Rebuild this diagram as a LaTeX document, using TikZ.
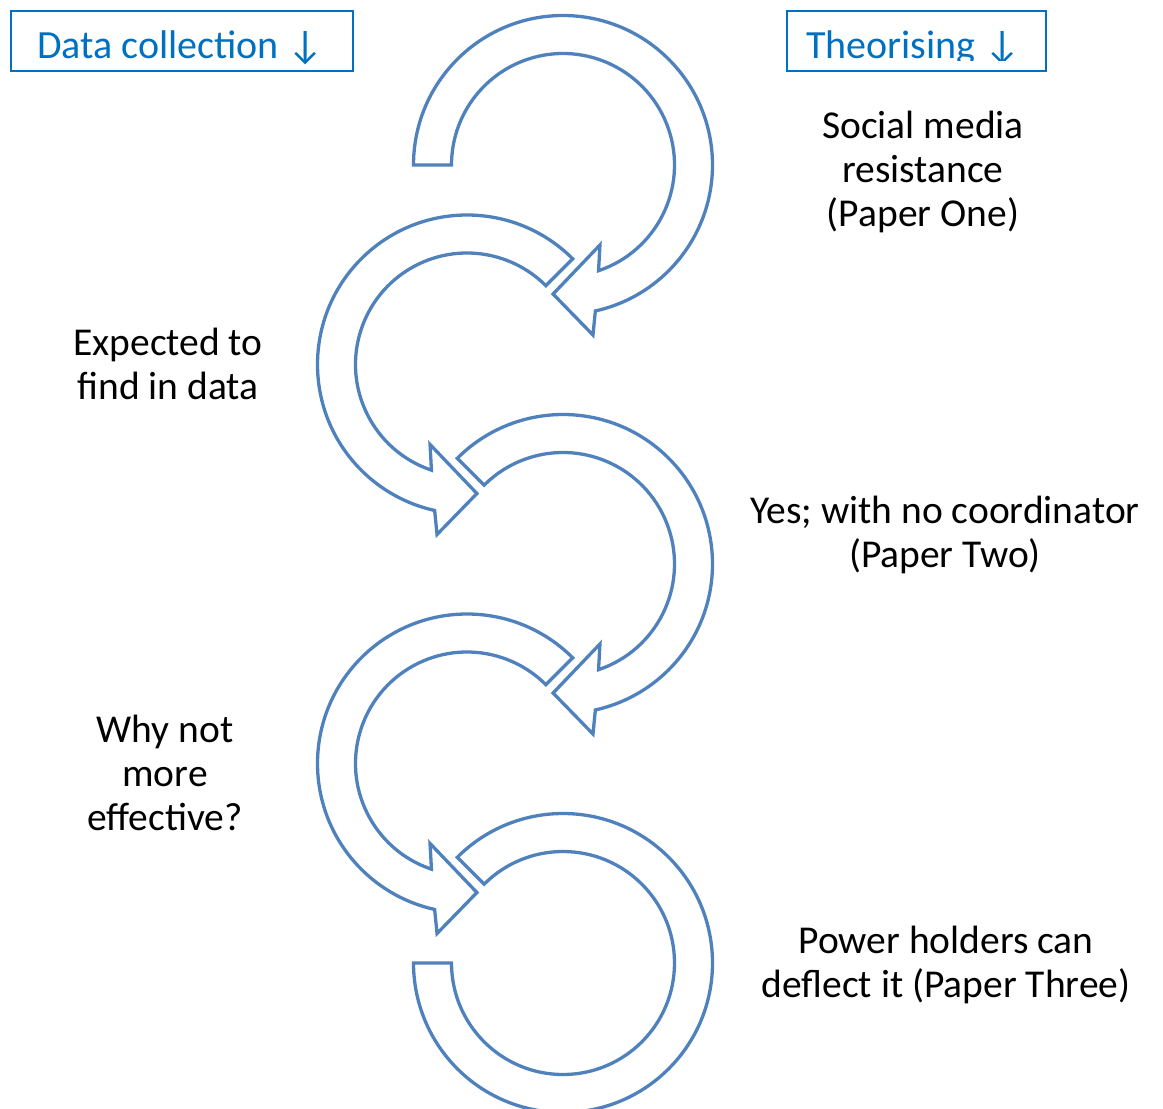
\documentclass[tikz,border=0pt]{standalone}
\usepackage{fontspec}
\setmainfont{Carlito}
\definecolor{arrowblue}{HTML}{4F81BD}
\definecolor{headblue}{HTML}{0070C0}
% clockwise circular block arrow, tail at angle #3, head at bottom pointing left
\newcommand\CWArrow[3]{%
  \begin{scope}[shift={(#1,-#2)}]
    \draw[band] (#3:149.5) arc[start angle=#3, end angle=-77.5, radius=149.5]
      -- (-80:172.6) -- (-94.4:129.4) -- (-65.2:88.1) -- (-71.4:111.5)
      arc[start angle=-71.4, end angle=#3, radius=111.5] -- cycle;
  \end{scope}}
% counter-clockwise circular block arrow, tail at angle #3, head at bottom pointing right
\newcommand\CCWArrow[3]{%
  \begin{scope}[shift={(#1,-#2)}]
    \draw[band] (#3:149.5) arc[start angle=#3, end angle=257.5, radius=149.5]
      -- (260:172.6) -- (274.4:129.4) -- (245.2:88.1) -- (251.4:111.5)
      arc[start angle=251.4, end angle=#3, radius=111.5] -- cycle;
  \end{scope}}
\begin{document}
\begin{tikzpicture}[x=1pt,y=1pt,
  band/.style={draw=arrowblue, line width=3.3pt, line join=miter},
  lbl/.style={align=center, font=\fontsize{39.5}{44}\selectfont, inner sep=0},
  headbox/.style={draw=headblue, line width=1.5pt, inner sep=0, minimum height=60},
  headtext/.style={text=headblue, font=\fontsize{40}{47}\selectfont, inner sep=0, anchor=base west}]
\useasboundingbox (0,0) rectangle (1163,-1109);

% circular arrows
\CWArrow{563}{165}{180}
\CCWArrow{467}{364.5}{45}
\CWArrow{563}{564}{135}
\CCWArrow{467}{763.5}{45}
\begin{scope}[shift={(563,-963)}]
  \draw[band] (135:149.5) arc[start angle=135, end angle=-180, radius=149.5]
    -- (180:111.5) arc[start angle=-180, end angle=135, radius=111.5] -- cycle;
\end{scope}

% header boxes
\node[headbox, minimum width=342] (dcbox) at (182,-41) {};
\node[headtext] (dc) at (37,-58) {Data collection ↓};
\node[headbox, minimum width=259] (thbox) at (916.5,-41) {};
\begin{scope}
  \clip (787,-11) rectangle (1046,-60);
  \node[headtext] (th) at (806,-58) {Theorising ↓};
\end{scope}

% labels
\node[lbl] (l1) at (923,-172) {Social media\\resistance\\(Paper One)};
\node[lbl] (l2) at (168,-364) {Expected to\\find in data};
\node[lbl] (l3) at (945,-535) {Yes; with no coordinator\\(Paper Two)};
\node[lbl] (l4) at (165,-773) {Why not\\more\\effective?};
\node[lbl] (l5) at (946,-965) {Power holders can\\deflect it (Paper Three)};
\end{tikzpicture}
\end{document}
